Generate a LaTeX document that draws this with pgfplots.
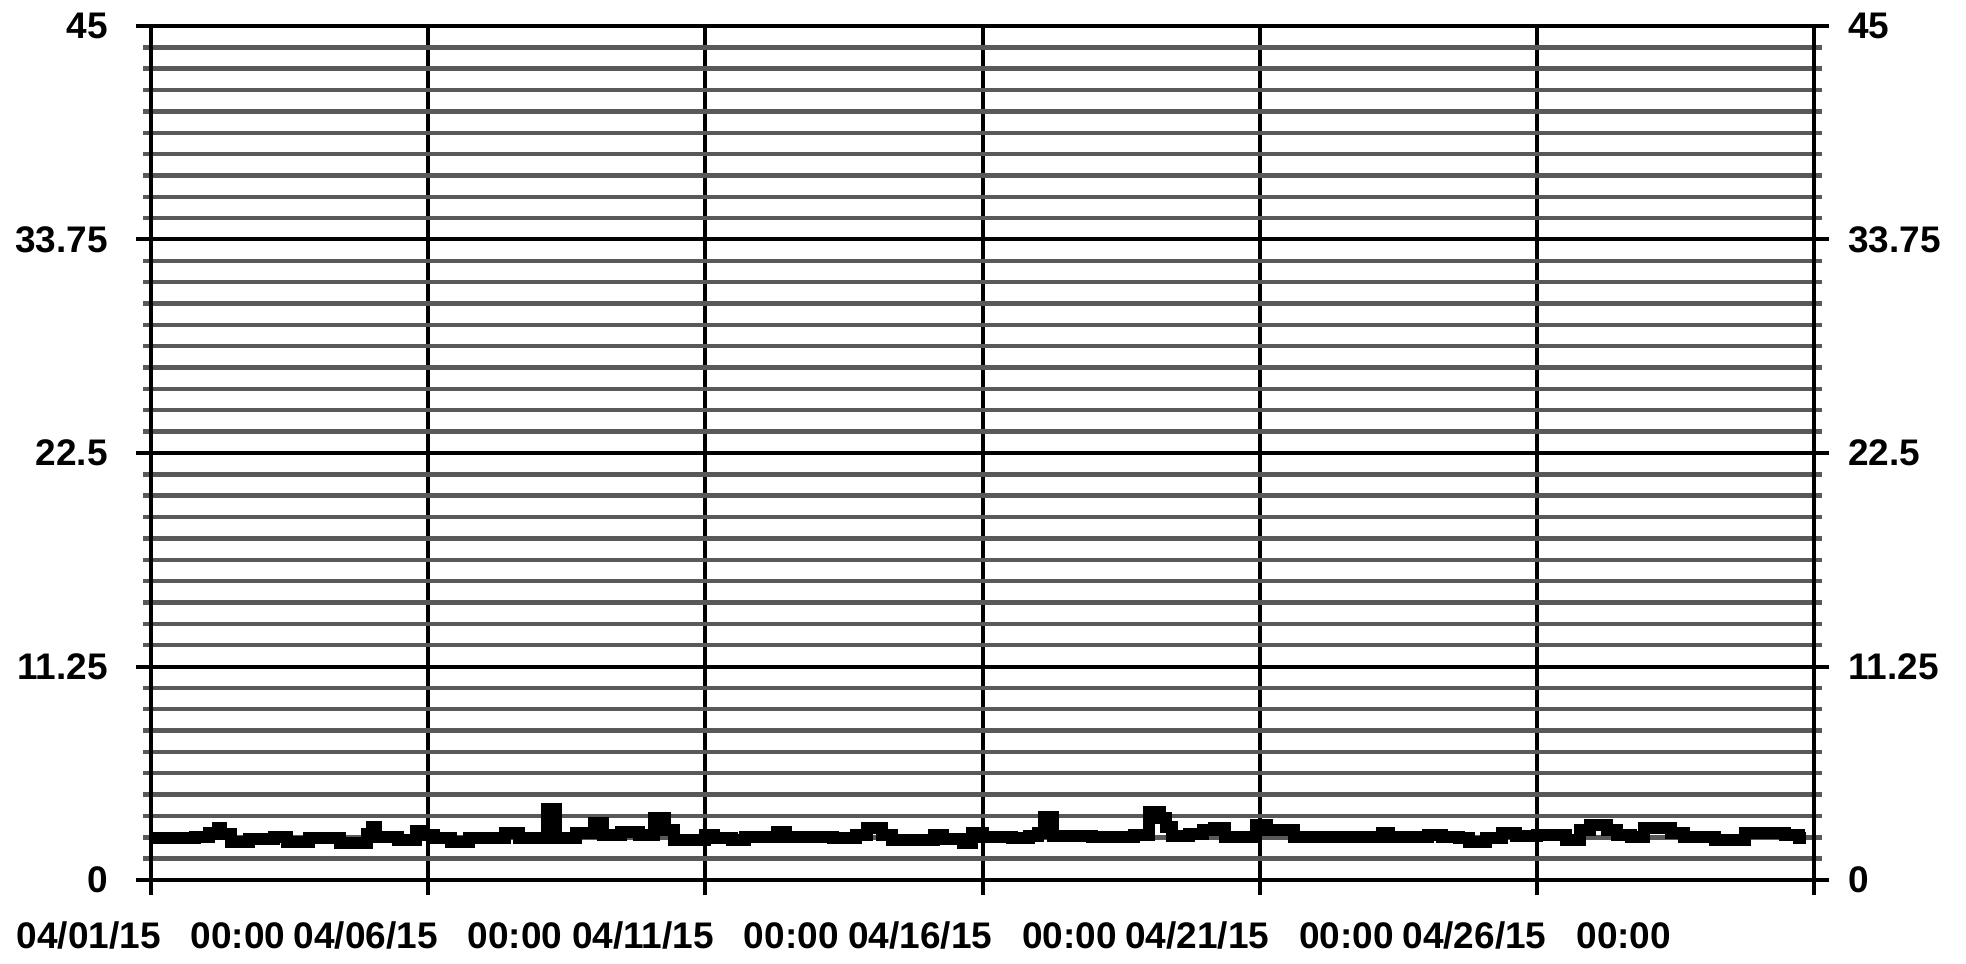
\documentclass[border=0pt]{standalone}
\usepackage{fontspec}
\setmainfont{Liberation Sans}
\usepackage{pgfplots}
\pgfplotsset{compat=1.18}
\usepackage{pgfplotstable}

\pgfplotstableread{
day val
0.00 2.19
0.80 2.28
1.04 2.50
1.20 2.75
1.26 2.45
1.45 2.02
1.77 2.14
2.21 2.28
2.45 2.02
2.85 2.19
3.41 1.93
3.90 2.45
3.98 2.80
4.06 2.25
4.46 2.11
4.78 2.60
4.90 2.37
5.10 2.19
5.42 2.02
5.74 2.19
6.39 2.46
6.63 2.19
7.15 3.74
7.31 2.19
7.67 2.46
7.99 2.98
8.15 2.37
8.47 2.54
8.80 2.37
9.08 3.25
9.28 2.63
9.44 2.11
10.00 2.37
10.16 2.19
10.48 2.11
10.72 2.25
11.29 2.54
11.45 2.25
12.30 2.19
12.71 2.37
12.92 2.72
13.19 2.37
13.36 2.11
14.12 2.37
14.29 2.14
14.64 1.93
14.81 2.46
15.00 2.28
15.53 2.19
15.84 2.32
16.01 2.49
16.11 3.30
16.28 2.32
16.97 2.25
17.73 2.37
18.00 3.60
18.21 3.25
18.31 2.81
18.42 2.32
18.73 2.42
18.97 2.63
19.17 2.72
19.38 2.25
19.93 2.90
20.14 2.63
20.62 2.28
21.17 2.25
22.20 2.46
22.34 2.28
23.04 2.37
23.29 2.25
23.59 2.19
23.77 2.02
24.08 2.19
24.38 2.46
24.62 2.32
25.00 2.37
25.53 2.11
25.78 2.63
25.96 2.90
26.26 2.63
26.45 2.37
26.69 2.28
26.93 2.72
27.42 2.46
27.66 2.25
28.21 2.11
28.75 2.46
29.48 2.37
29.73 2.19
29.85 2.19
}\datatable

\begin{document}
\begin{tikzpicture}
\path[use as bounding box] (-75.5pt,-42pt) rectangle (907.5pt,440pt);
\begin{axis}[
  scale only axis, width=831.5pt, height=427pt,
  at={(0,0)}, anchor=south west,
  xmin=0, xmax=30, ymin=0, ymax=45,
  xtick={0,5,10,15,20,25,30},
  xticklabels={04/01/15\hspace{15pt}00:00,04/06/15\hspace{15pt}00:00,04/11/15\hspace{15pt}00:00,04/16/15\hspace{15pt}00:00,04/21/15\hspace{15pt}00:00,04/26/15\hspace{15pt}00:00,{}},
  ytick={0,11.25,22.5,33.75,45},
  yticklabels={0,11.25,22.5,33.75,45},
  minor y tick num=9,
  xtick pos=bottom, ytick pos=both,
  ymajorgrids, yminorgrids, xmajorgrids,
  major grid style={black, line width=2pt},
  minor grid style={black!65, line width=2.2pt},
  axis line style={black, line width=2pt},
  tick align=outside,
  major tick length=7.5pt, minor tick length=4pt,
  major tick style={black, line width=2pt},
  minor tick style={black!65, line width=2.2pt},
  tick label style={font=\fontsize{18.5}{22}\selectfont\bfseries, inner sep=0pt},
  yticklabel style={anchor=east, xshift=-14pt},
  xticklabel style={anchor=north, yshift=-13pt},
]
\addplot[const plot, black, line width=6pt, line join=miter] table[x=day, y=val] {\datatable};
\end{axis}
\begin{axis}[
  scale only axis, width=831.5pt, height=427pt,
  at={(0,0)}, anchor=south west,
  xmin=0, xmax=30, ymin=0, ymax=45,
  hide x axis,
  axis y line*=right,
  y axis line style={draw=none},
  ytick={0,11.25,22.5,33.75,45},
  yticklabels={0,11.25,22.5,33.75,45},
  major tick length=0pt, minor tick length=0pt,
  ytick style={draw=none},
  tick label style={font=\fontsize{18.5}{22}\selectfont\bfseries, inner sep=0pt},
  yticklabel style={anchor=west, xshift=17pt},
]
\addplot[draw=none] coordinates {(0,0)};
\end{axis}
\end{tikzpicture}
\end{document}
